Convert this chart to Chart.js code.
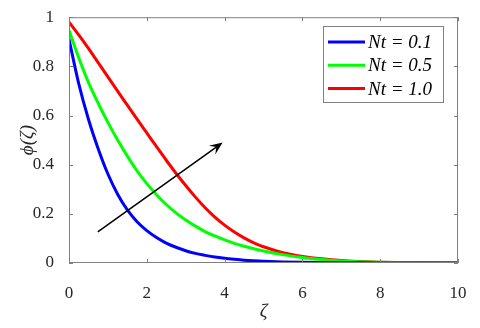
<!DOCTYPE html>
<html>
<head>
<meta charset="utf-8">
<script src="https://cdn.jsdelivr.net/npm/chart.js@4.4.0/dist/chart.umd.min.js"></script>
<style>
    html, body { margin: 0; padding: 0; background: #fff; }
    canvas { display: block; }
</style>
</head>
<body>
<canvas id="phiChart" width="480" height="328"></canvas>
<script>
// data
const zeta = [0, 0.25, 0.5, 0.75, 1, 1.25, 1.5, 1.75, 2, 2.25, 2.5, 2.75, 3, 3.25, 3.5, 3.75, 4, 4.25, 4.5, 4.75, 5, 5.5, 6, 6.5, 7, 7.5, 8, 9, 10];
const phiNt01 = [0.91, 0.73, 0.585, 0.465, 0.362, 0.28, 0.216, 0.168, 0.132, 0.104, 0.081, 0.064, 0.05, 0.039, 0.031, 0.024, 0.019, 0.015, 0.0115, 0.009, 0.007, 0.0045, 0.0028, 0.0017, 0.001, 0.0006, 0.0003, 0.0001, 0];
const phiNt05 = [0.947, 0.835, 0.735, 0.65, 0.572, 0.5, 0.435, 0.375, 0.323, 0.278, 0.238, 0.204, 0.175, 0.15, 0.128, 0.11, 0.094, 0.08, 0.068, 0.058, 0.049, 0.034, 0.022, 0.014, 0.008, 0.005, 0.003, 0.001, 0];
const phiNt10 = [0.98, 0.928, 0.873, 0.815, 0.757, 0.699, 0.642, 0.585, 0.529, 0.473, 0.418, 0.365, 0.315, 0.268, 0.225, 0.187, 0.154, 0.126, 0.102, 0.082, 0.066, 0.042, 0.027, 0.017, 0.01, 0.006, 0.003, 0.001, 0];
const seriesLabels = ["Nt = 0.1", "Nt = 0.5", "Nt = 1.0"];
const seriesColors = ["#0000ff", "#00ff00", "#ff0000"];
const xTicks = [0, 2, 4, 6, 8, 10];
const yTicks = [0, 0.2, 0.4, 0.6, 0.8, 1];
// arrow tail and head in data units
const arrowFrom = [0.74, 0.127];
const arrowTo = [3.95, 0.49];

const serif = "'Liberation Serif', 'Times New Roman', serif";

function toPoints(ys) {
    return zeta.map((x, i) => ({ x: x, y: ys[i] }));
}

const frame = {
    id: 'frame',
    afterDraw(chart) {
        const ctx = chart.ctx;
        const a = chart.chartArea;
        const sx = chart.scales.x, sy = chart.scales.y;
        ctx.save();

        // axes box with inward ticks on all sides
        ctx.strokeStyle = '#808080';
        ctx.lineWidth = 1;
        ctx.strokeRect(a.left + 0.5, a.top + 0.5, a.right - a.left - 1, a.bottom - a.top - 1);
        ctx.beginPath();
        xTicks.forEach(t => {
            const px = Math.round(sx.getPixelForValue(t)) + 0.5;
            ctx.moveTo(px, a.bottom); ctx.lineTo(px, a.bottom - 4);
            ctx.moveTo(px, a.top); ctx.lineTo(px, a.top + 4);
        });
        yTicks.forEach(t => {
            const py = Math.round(sy.getPixelForValue(t)) + 0.5;
            ctx.moveTo(a.left, py); ctx.lineTo(a.left + 4, py);
            ctx.moveTo(a.right, py); ctx.lineTo(a.right - 4, py);
        });
        ctx.stroke();

        // arrow
        const x1 = sx.getPixelForValue(arrowFrom[0]), y1 = sy.getPixelForValue(arrowFrom[1]);
        const x2 = sx.getPixelForValue(arrowTo[0]), y2 = sy.getPixelForValue(arrowTo[1]);
        const ang = Math.atan2(y2 - y1, x2 - x1);
        const hl = 13, hw = 5.5;
        ctx.strokeStyle = '#000';
        ctx.lineWidth = 1.5;
        ctx.beginPath();
        ctx.moveTo(x1, y1);
        ctx.lineTo(x2 - Math.cos(ang) * hl * 0.6, y2 - Math.sin(ang) * hl * 0.6);
        ctx.stroke();
        ctx.fillStyle = '#000';
        ctx.beginPath();
        ctx.moveTo(x2, y2);
        ctx.lineTo(x2 - Math.cos(ang) * hl + Math.sin(ang) * hw, y2 - Math.sin(ang) * hl - Math.cos(ang) * hw);
        ctx.lineTo(x2 - Math.cos(ang) * hl * 0.6, y2 - Math.sin(ang) * hl * 0.6);
        ctx.lineTo(x2 - Math.cos(ang) * hl - Math.sin(ang) * hw, y2 - Math.sin(ang) * hl + Math.cos(ang) * hw);
        ctx.closePath();
        ctx.fill();

        // legend box
        const lx = 323, ly = 26, lw = 120, lh = 76;
        ctx.fillStyle = '#fff';
        ctx.fillRect(lx, ly, lw, lh);
        ctx.strokeStyle = '#808080';
        ctx.lineWidth = 1;
        ctx.strokeRect(lx + 0.5, ly + 0.5, lw, lh);
        ctx.font = 'italic 19px ' + serif;
        ctx.textBaseline = 'middle';
        ctx.textAlign = 'left';
        seriesLabels.forEach((lab, i) => {
            const ry = 42 + i * 23.3;
            ctx.strokeStyle = seriesColors[i];
            ctx.lineWidth = 3;
            ctx.beginPath();
            ctx.moveTo(328, ry); ctx.lineTo(365, ry);
            ctx.stroke();
            ctx.fillStyle = '#000';
            ctx.fillText(lab, 368, ry + 1);
        });

        // axis titles
        ctx.fillStyle = '#262626';
        ctx.font = 'italic 19px ' + serif;
        ctx.textAlign = 'center';
        ctx.fillText('\u03B6', (a.left + a.right) / 2, 312);
        ctx.translate(28, (a.top + a.bottom) / 2);
        ctx.rotate(-Math.PI / 2);
        ctx.fillText('\u03D5(\u03B6)', 0, 0);
        ctx.restore();
    }
};

const datasets = [phiNt01, phiNt05, phiNt10].map((ys, i) => ({
    label: seriesLabels[i],
    data: toPoints(ys),
    borderColor: seriesColors[i],
    borderWidth: 3,
    pointRadius: 0,
    fill: false,
    cubicInterpolationMode: 'monotone'
}));

const myChart = new Chart(document.getElementById('phiChart').getContext('2d'), {
    type: 'line',
    data: { datasets: datasets },
    options: {
        responsive: false,
        animation: false,
        devicePixelRatio: 1,
        layout: { padding: { left: 0, right: 22, top: 10, bottom: 0 } },
        plugins: { legend: { display: false }, tooltip: { enabled: false } },
        scales: {
            x: {
                type: 'linear', min: 0, max: 10,
                afterFit: s => { s.height = 65; },
                afterBuildTicks: s => { s.ticks = xTicks.map(v => ({ value: v })); },
                grid: { display: false },
                border: { display: false },
                ticks: { color: '#262626', padding: 12, maxRotation: 0, font: { family: serif, size: 17 } }
            },
            y: {
                min: 0, max: 1,
                afterFit: s => { s.width = 69; },
                afterBuildTicks: s => { s.ticks = yTicks.map(v => ({ value: v })); },
                grid: { display: false },
                border: { display: false },
                ticks: {
                    color: '#262626', padding: 7, font: { family: serif, size: 17 },
                    callback: v => String(Math.round(v * 10) / 10)
                }
            }
        }
    },
    plugins: [frame]
});
</script>
</body>
</html>
